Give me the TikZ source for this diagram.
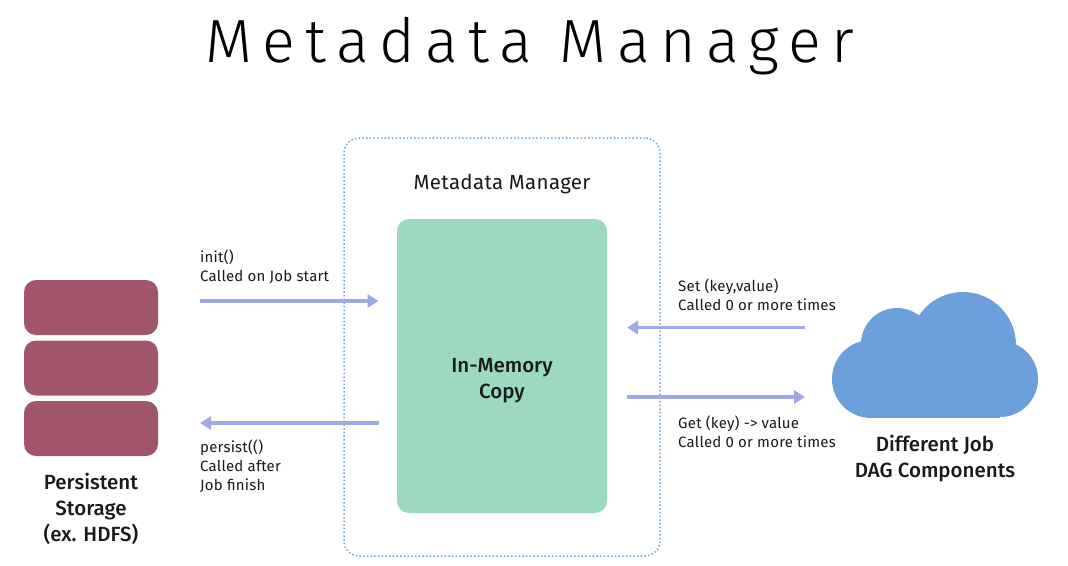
\documentclass[tikz,border=0pt]{standalone}
\usepackage{fontspec}
\setmainfont{Fira Sans Light}[BoldFont=Fira Sans Medium]
\newfontfamily\titlefont{Fira Sans Light}[LetterSpace=17]
\newfontfamily\labelfont{Fira Sans}[LetterSpace=1.5]
\usetikzlibrary{arrows.meta}
\definecolor{plum}{HTML}{A2566C}
\definecolor{mint}{HTML}{9DD9C0}
\definecolor{sky}{HTML}{6CA0DC}
\definecolor{dots}{HTML}{6FA6DE}
\definecolor{flow}{HTML}{A0A9E3}
\definecolor{ink}{HTML}{1A1A1A}
\tikzset{
 disk/.style={fill=plum,rounded corners=12pt,minimum width=134pt,minimum height=55pt,inner sep=0},
 memory/.style={fill=mint,rounded corners=12pt,minimum width=210pt,minimum height=294pt,inner sep=0},
 frame/.style={draw=dots,line width=1.5pt,dash pattern=on 1.5pt off 2.2pt,rounded corners=15pt,minimum width=316pt,minimum height=418pt,inner sep=0},
 flowline/.style={draw=flow,line width=3.5pt,-{Triangle[length=11pt,width=13pt]}},
 note/.style={align=left,anchor=west,inner sep=0,font=\fontsize{15}{19}\labelfont,text=ink},
 heading/.style={align=center,inner sep=0,font=\fontsize{20.5}{26}\selectfont\bfseries,text=ink},
}
\begin{document}
\begin{tikzpicture}[x=1pt,y=-1pt]
\useasboundingbox (0,0) rectangle (1068,565);
\fill[white] (0,0) rectangle (1068,565);
\node[inner sep=0,text=black,font=\fontsize{61}{64}\titlefont] (title) at (530,46) {Metadata Manager};
\node[frame] (mgr) at (502,347) {};
\node[inner sep=0,font=\fontsize{20.5}{22}\labelfont,text=ink] (mgrlabel) at (502,184) {Metadata Manager};
\node[memory] (mem) at (502,366) {};
\node[heading] (memlabel) at (502,381) {In-Memory\\Copy};
\node[disk] (d1) at (91,307.5) {};
\node[disk] (d2) at (91,368) {};
\node[disk] (d3) at (91,428.5) {};
\node[heading] (store) at (91,509) {Persistent\\Storage\\(ex. HDFS)};
\fill[sky] (871,379) circle[radius=39];
\fill[sky] (1000,379) circle[radius=38];
\fill[sky] (897,344) circle[radius=36];
\fill[sky] (963,345) circle[radius=53];
\fill[sky] (871,350) rectangle (1000,417.5);
\coordinate (cloud) at (935,355);
\node[heading] (dag) at (935,459) {Different Job\\DAG Components};
\coordinate (a1) at (200,301); \coordinate (a2) at (378.5,301);
\coordinate (b1) at (378.5,423); \coordinate (b2) at (200,423);
\coordinate (c1) at (805,327.5); \coordinate (c2) at (627,327.5);
\coordinate (e1) at (627,397); \coordinate (e2) at (805,397);
\draw[flowline] (a1) -- (a2);
\draw[flowline] (b1) -- (b2);
\draw[flowline] (c1) -- (c2);
\draw[flowline] (e1) -- (e2);
\node[note] (n1) at (200,266.5) {init()\\Called on Job start};
\node[note] (n2) at (200,466) {persist(()\\Called after\\Job finish};
\node[note] (n3) at (678,294.5) {Set (key,value)\\Called 0 or more times};
\node[note] (n4) at (678,432) {Get (key) -> value\\Called 0 or more times};
\end{tikzpicture}
\end{document}
